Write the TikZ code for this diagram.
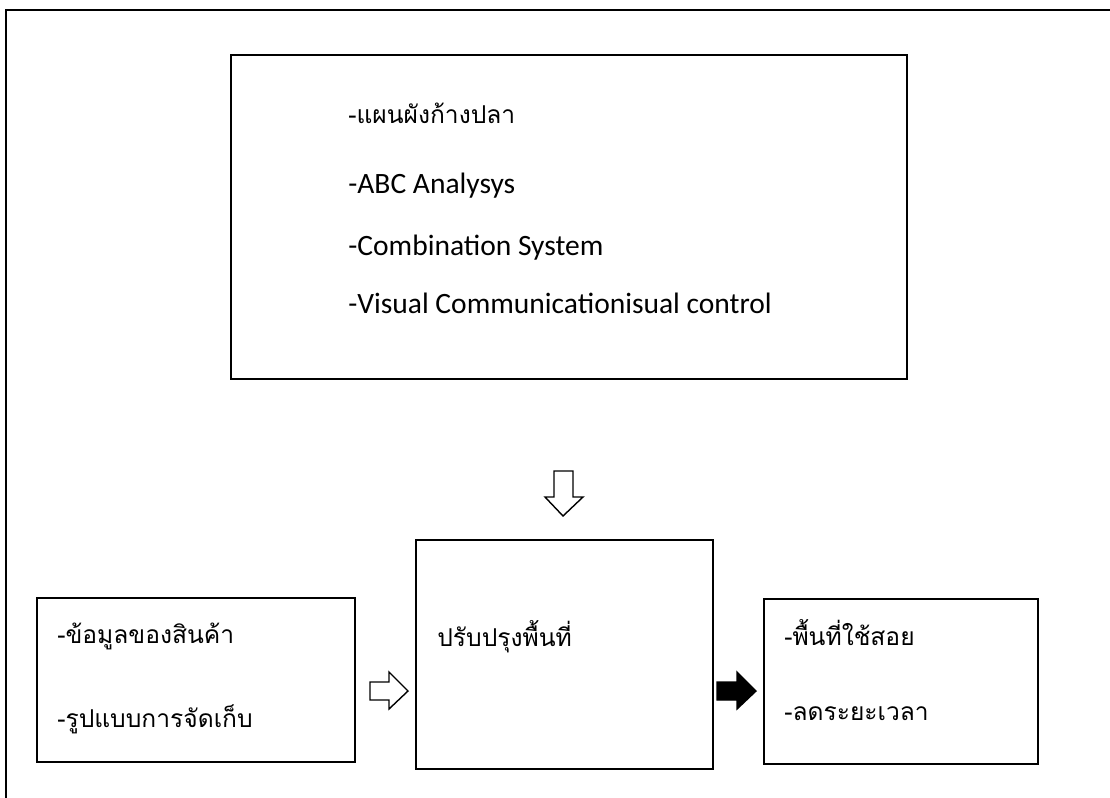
\documentclass[tikz,border=0pt]{standalone}
\usepackage{fontspec}
\setmainfont{Carlito}
\newfontfamily\thaifont[Script=Thai]{Loma}
\usetikzlibrary{positioning}

\begin{document}
\begin{tikzpicture}[x=0.02cm,y=-0.02cm,
    box/.style={draw,line width=1.2pt,inner sep=0pt},
    itemtext/.style={anchor=base west,inner sep=0pt,font=\fontsize{16.8}{20}\selectfont},
    thaitext/.style={itemtext,font=\fontsize{14}{17}\thaifont},
    blockarrow/.style={draw,line width=0.8pt,line join=miter}]
            \useasboundingbox (0,0) rectangle (1110,798);
            \clip (0,0) rectangle (1110,798);
            % frame of the page
            \draw[line width=1.2pt] (6,10) rectangle (1130,820);

            \node[box,minimum width=13.52cm,minimum height=6.48cm] (tools) at (569,217) {};
            \node[box,minimum width=6.36cm,minimum height=3.28cm] (input) at (196,680) {};
            \node[box,minimum width=5.94cm,minimum height=4.58cm] (improve) at (564.5,654.5) {};
            \node[box,minimum width=5.48cm,minimum height=3.3cm] (result) at (901,681.5) {};

            \node[thaitext] (fishbone) at (348,123) {-แผนผังก้างปลา};
            \node[itemtext] (abc) at (348,193) {-ABC Analysys};
            \node[itemtext] (combi) at (348,255) {-Combination System};
            \node[itemtext] (visual) at (348,313) {-Visual Communicationisual control};

            \node[thaitext] (data) at (57,643) {-ข้อมูลของสินค้า};
            \node[thaitext] (storage) at (57,727) {-รูปแบบการจัดเก็บ};
            \node[thaitext] (area) at (437,646) {ปรับปรุงพื้นที่};
            \node[thaitext] (space) at (784,645) {-พื้นที่ใช้สอย};
            \node[thaitext] (time) at (784,720) {-ลดระยะเวลา};

            % block arrows
            \draw[blockarrow,fill=white] (554,471) -- (573,471) -- (573,497) -- (583,497)
                -- (563,516) -- (545,497) -- (554,497) -- cycle;
            \draw[blockarrow,fill=white] (370,682) -- (389,682) -- (389,672) -- (408,691)
                -- (389,709) -- (389,700) -- (370,700) -- cycle;
            \draw[blockarrow,fill=black] (717,682) -- (737,682) -- (737,672) -- (756,691)
                -- (737,709) -- (737,700) -- (717,700) -- cycle;
\end{tikzpicture}
\end{document}
